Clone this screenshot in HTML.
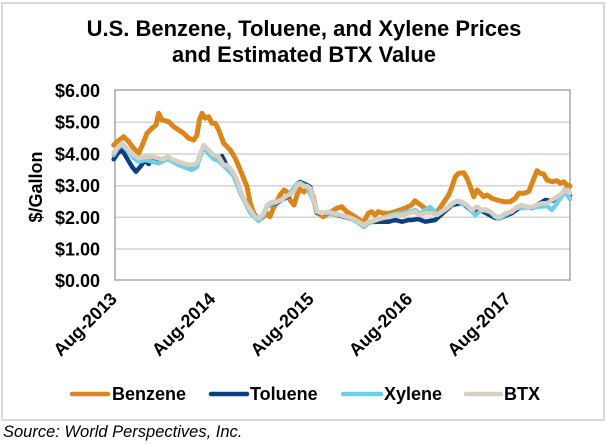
<!DOCTYPE html>
<html>
<head>
<meta charset="utf-8">
<style>
  html, body { margin:0; padding:0; background:#fff; }
  svg { display:block; }
  text { font-family: "Liberation Sans", Arial, sans-serif; fill:#000; }
</style>
</head>
<body>
<svg width="607" height="445" viewBox="0 0 607 445" xmlns="http://www.w3.org/2000/svg">
  <rect x="0" y="0" width="607" height="445" fill="#fff"/>
  <!-- outer box -->
  <rect x="2" y="3" width="602" height="417" fill="#fff" stroke="#d9d9d9" stroke-width="2"/>

  <!-- title -->
  <text x="304" y="36" text-anchor="middle" font-size="22" font-weight="bold">U.S. Benzene, Toluene, and Xylene Prices</text>
  <text x="304" y="62" text-anchor="middle" font-size="22" font-weight="bold">and Estimated BTX Value</text>

  <!-- gridlines -->
  <g stroke="#d4d4d4" stroke-width="1.5">
    <line x1="115" y1="122.3" x2="570" y2="122.3"/>
    <line x1="115" y1="154" x2="570" y2="154"/>
    <line x1="115" y1="185.7" x2="570" y2="185.7"/>
    <line x1="115" y1="217.3" x2="570" y2="217.3"/>
    <line x1="115" y1="249" x2="570" y2="249"/>
  </g>
  <rect x="115" y="90" width="455" height="190" fill="none" stroke="#a6a6a6" stroke-width="1.5"/>

  <!-- y labels -->
  <g font-size="18" font-weight="bold" text-anchor="end">
    <text x="100" y="97">$6.00</text>
    <text x="100" y="128.7">$5.00</text>
    <text x="100" y="160.4">$4.00</text>
    <text x="100" y="192.1">$3.00</text>
    <text x="100" y="223.8">$2.00</text>
    <text x="100" y="255.5">$1.00</text>
    <text x="100" y="287">$0.00</text>
  </g>
  <text transform="translate(42,187) rotate(-90)" text-anchor="middle" font-size="18" font-weight="bold">$/Gallon</text>

  <!-- x labels -->
  <g font-size="18" font-weight="bold" text-anchor="end">
    <text transform="translate(118,300) rotate(-45)">Aug-2013</text>
    <text transform="translate(216.5,300) rotate(-45)">Aug-2014</text>
    <text transform="translate(315,300) rotate(-45)">Aug-2015</text>
    <text transform="translate(413.5,300) rotate(-45)">Aug-2016</text>
    <text transform="translate(512,300) rotate(-45)">Aug-2017</text>
  </g>

  <!-- series -->
  <g fill="none" stroke-linejoin="round" stroke-linecap="round">
    <polyline stroke="#D9861C" stroke-width="5" points="113.7,145 118,141 123.7,136.7 128.7,141.7 133.7,148.3 138.7,153.3 143.7,141.7 147,133.3 152,128.3 156,125 158.7,113.3 162,120 168.7,121.7 173.7,126.7 178.7,130 183.7,133.3 188.7,138.3 193.7,140 197,135 199.3,120 202,113.3 205.3,118.3 208.7,116.7 212,123.3 215.3,123.3 218.7,130 223.7,143.3 230.3,150 235.3,158.3 240.3,170 243.7,178.3 247,186.7 250.3,203.3 253.7,213.3 257,218.3 262,218 266.7,213.3 270,216.7 273,209 276,203 280,195 284,190 287,192 290,200 294,205 297,195 300,189 304,192 307,188 310,190 313,196 316.7,212 323.3,216.7 329,213 336.7,208.3 341.7,206.7 346.7,211.7 355,216.7 363.3,222.7 368.3,213.3 371.7,211.7 375,215 378.3,211.7 383.3,213.3 390,213.3 400,210 405,208.3 411.7,205 415,200.7 418.3,203.3 425,208.3 430,211.7 437,211.7 442,205 445.3,200 448.7,195 452,186.7 455.3,176.7 458.7,173.3 463.7,172.7 467,178.3 470.3,186.7 473.7,196.7 477,190 480.3,193.3 483.7,196.7 487,195 492,198.3 497,200 503.7,201.7 510.3,201.7 515.3,198.3 518.7,193.3 523.7,193.3 528.7,191.7 532,183.3 537,170.7 540.3,173.3 543.7,174 547,180 552,181.7 557,180.7 560.3,183.3 563.7,181.7 567,185 570,186"/>
    <polyline stroke="#0C3F7E" stroke-width="4.5" points="113.7,159.3 118,153 122,150 127,158.3 132,166.7 136,171.7 140.3,166.7 145.3,160 148.7,164 152,159.3 158.7,160 168,158 178.7,163 192,167 197,165 200.3,154 203.7,146 208.7,152 213.7,157 218.7,159 222,156 227,166 233.7,175 240.3,192 250.3,211 258.7,219 263.7,214 267,206 277,203 288.7,196 297,184 300.3,182 307,185 310.3,187 313.7,201 317,213 333.7,214 352,219 358.7,222 363.7,225 370,222 378.7,221.7 388.7,221.7 395.3,220 402,221.7 408.7,220 412,220 418,219 425.3,221.7 435.3,220 442,214 452,205 462,203 472,211 482,211 495.3,218 500.3,218 512,213 522,206 532,208 537,205 545.3,200 552,201 562,194 565.3,189 570,195"/>
    <polyline stroke="#70CFE3" stroke-width="4.5" points="113.7,155 118,148 122,145 127,150 133.7,158 138.7,161.7 145.3,160 158.7,163.3 168,159 178.7,165 192,170 197,167 200.3,156 203.7,147 208.7,154 213.7,159 218.7,161 227,169 233.7,176 240.3,193 250.3,213 258.7,221 263.7,215 267,206 277,202 288.7,195 297,184 300.3,183 307,187 313.7,201 317,212 340,215 352,219 358.7,223 363.7,227 368.7,223 382,218 395.3,214 408.7,212 415.3,210 420,214 425.3,210 430.3,207 437,214 447,208 457,201 467,206 475.3,215 482,210 490.3,212 498.7,219 505.3,215 517,208 527,208 537,207 547,206 552,210 562,196 565.3,192 570,199"/>
    <polyline stroke="#D8CFC2" stroke-width="4.5" points="113.7,152.7 118,147 122,143.3 127,148.3 133.7,155 138.7,158.3 145.3,156.7 152,156.7 158.7,158.3 163.7,159.3 168,156 172,159.3 178.7,161.7 185.3,164 192,165 197,163.3 200.3,153.3 203.7,145 208.7,150 213.7,155 218.7,156.7 223.7,165 227,165 230.3,168.3 233.7,173.3 237,180 240.3,190 245.3,201.7 250.3,210 255.3,216.7 258.7,218.3 263.7,213.3 267,205 272,201.7 277,201.7 282,200 285.3,196.7 288.7,195 293.7,191.7 297,185 300.3,183.3 303.7,186.7 307,186 310.3,188.3 313.7,200 317,211.7 322,213.3 328.7,211.7 333.7,213.3 340.3,215 347,216.7 352,218.3 358.7,221.7 363.7,225 368.7,221.7 375.3,220 382,218.3 388.7,216.7 395.3,215 402,215 408.7,213.3 415.3,211.7 418.7,215 425.3,213.3 432,213.3 437,215 442,211.7 447,208.3 452,203.3 457,200.7 462,201.7 467,205 472,210 477,206.7 482,210 485.3,209.3 490.3,211.7 495.3,216.7 500.3,216.7 505.3,213.3 512,211.7 517,206.7 522,205 527,207.3 532,206.7 537,205 542,203.3 547,203.3 552,200 557,196.7 562,193.3 565.3,189.3 570,193.3"/>
  </g>

  <!-- legend -->
  <g stroke-width="4.5" stroke-linecap="round">
    <line x1="72" y1="394" x2="108" y2="394" stroke="#D9861C"/>
    <line x1="211" y1="394" x2="247" y2="394" stroke="#0C3F7E"/>
    <line x1="343" y1="394" x2="381" y2="394" stroke="#70CFE3"/>
    <line x1="466" y1="394" x2="501" y2="394" stroke="#D8CFC2"/>
  </g>
  <g font-size="18" font-weight="bold">
    <text x="112" y="400">Benzene</text>
    <text x="250" y="400">Toluene</text>
    <text x="384" y="400">Xylene</text>
    <text x="504" y="400">BTX</text>
  </g>

  <!-- source -->
  <text x="3" y="437" font-size="16.5" font-style="italic">Source: World Perspectives, Inc.</text>
</svg>
</body>
</html>
